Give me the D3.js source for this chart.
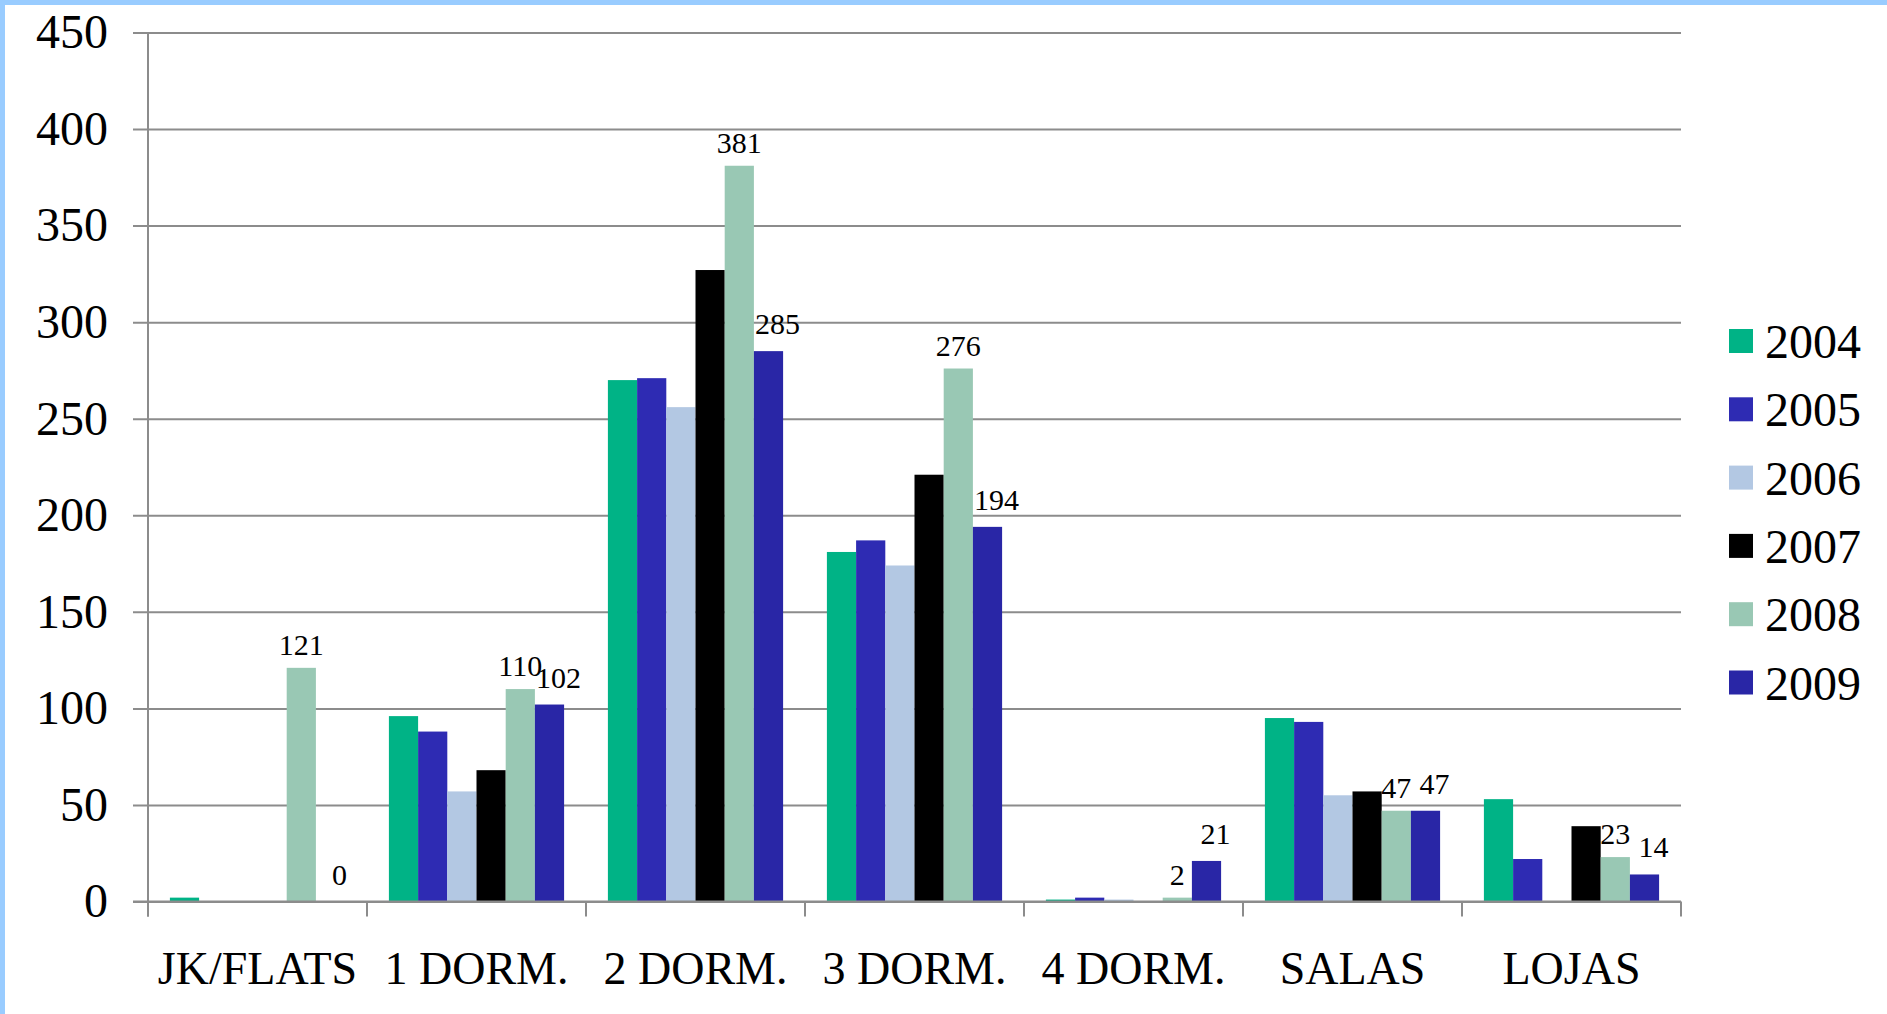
<!DOCTYPE html>
<html>
<head>
<meta charset="utf-8">
<script src="https://cdn.jsdelivr.net/npm/d3@7"></script>
<style>
  html, body { margin: 0; padding: 0; background: #fff; }
  svg { display: block; font-family: "Liberation Serif", "Times New Roman", serif; }
</style>
</head>
<body>
<div id="chart"></div>
<script>
const categories = ["JK/FLATS", "1 DORM.", "2 DORM.", "3 DORM.", "4 DORM.", "SALAS", "LOJAS"];
const years = ["2004", "2005", "2006", "2007", "2008", "2009"];
const values2004 = [2, 96, 270, 181, 1, 95, 53];
const values2005 = [0, 88, 271, 187, 2, 93, 22];
const values2006 = [0, 57, 256, 174, 1, 55, 0];
const values2007 = [0, 68, 327, 221, 0, 57, 39];
const values2008 = [121, 110, 381, 276, 2, 47, 23];
const values2009 = [0, 102, 285, 194, 21, 47, 14];
const yTicks = [0, 50, 100, 150, 200, 250, 300, 350, 400, 450];
const labelledYears = ["2008", "2009"];

const colors = ["#00b386", "#2e2bb3", "#b3c8e3", "#000000", "#99c8b4", "#2926a6"];
const seriesValues = [values2004, values2005, values2006, values2007, values2008, values2009];

const W = 1887, H = 1014;
const plotLeft = 148, plotRight = 1681, plotTop = 32.5, plotBottom = 901.5;

const svg = d3.select("#chart").append("svg")
    .attr("width", W)
    .attr("height", H);

// light blue frame on top and left
svg.append("rect").attr("x", 0).attr("y", 0).attr("width", W).attr("height", 5).attr("fill", "#99ccff");
svg.append("rect").attr("x", 0).attr("y", 0).attr("width", 5).attr("height", H).attr("fill", "#99ccff");

const x0 = d3.scaleBand().domain(categories).range([plotLeft, plotRight]).paddingInner(0).paddingOuter(0);
const x1 = d3.scaleBand().domain(years).range([0, x0.bandwidth()]).paddingInner(0).paddingOuter(0.75);
const y = d3.scaleLinear().domain([0, 450]).range([plotBottom, plotTop]);
const color = d3.scaleOrdinal().domain(years).range(colors);

// y axis with gridlines
const yAxis = svg.append("g")
    .attr("transform", `translate(${plotLeft},0)`)
    .call(d3.axisLeft(y).tickValues(yTicks).tickSize(0).tickPadding(40));
yAxis.select(".domain").remove();
yAxis.selectAll(".tick line")
    .attr("x1", -15)
    .attr("x2", plotRight - plotLeft)
    .attr("stroke", "#8c8c8c")
    .attr("stroke-width", 2);
yAxis.selectAll(".tick text")
    .attr("font-size", 48)
    .attr("font-family", "Liberation Serif")
    .attr("fill", "#000");

// vertical axis line
svg.append("line")
    .attr("x1", plotLeft).attr("x2", plotLeft)
    .attr("y1", plotTop).attr("y2", plotBottom + 15)
    .attr("stroke", "#8c8c8c").attr("stroke-width", 2);

// bars
const rows = categories.map((c, i) => ({ cat: c, vals: years.map((yr, j) => ({ year: yr, value: seriesValues[j][i] })) }));

const groups = svg.append("g").selectAll("g")
    .data(rows)
    .join("g")
    .attr("transform", d => `translate(${x0(d.cat)},0)`);

groups.selectAll("rect")
    .data(d => d.vals)
    .join("rect")
    .attr("x", d => x1(d.year))
    .attr("y", d => y(d.value))
    .attr("width", x1.bandwidth())
    .attr("height", d => plotBottom - y(d.value))
    .attr("fill", d => color(d.year));

// data labels for 2008 and 2009
groups.selectAll("text.lbl")
    .data(d => d.vals.filter(v => labelledYears.includes(v.year)))
    .join("text")
    .attr("class", "lbl")
    .attr("x", d => x1(d.year) + x1.bandwidth() / 2 + (d.year === "2009" ? 9 : 0))
    .attr("y", d => y(d.value) - (d.year === "2009" ? 17 : 13))
    .attr("text-anchor", "middle")
    .attr("font-size", 30)
    .text(d => d.value);

// x axis baseline and boundary ticks
svg.append("line")
    .attr("x1", plotLeft - 15).attr("x2", plotRight)
    .attr("y1", plotBottom).attr("y2", plotBottom)
    .attr("stroke", "#8c8c8c").attr("stroke-width", 2);

const bounds = categories.map(c => x0(c)).concat([plotRight]);
svg.append("g").selectAll("line")
    .data(bounds)
    .join("line")
    .attr("x1", d => d).attr("x2", d => d)
    .attr("y1", plotBottom).attr("y2", plotBottom + 15)
    .attr("stroke", "#8c8c8c").attr("stroke-width", 2);

const xAxis = svg.append("g")
    .attr("transform", `translate(0,${plotBottom})`)
    .call(d3.axisBottom(x0).tickSize(0).tickPadding(50));
xAxis.select(".domain").remove();
xAxis.selectAll(".tick text")
    .attr("font-size", 46)
    .attr("font-family", "Liberation Serif")
    .attr("fill", "#000");

// legend
const legend = svg.append("g").selectAll("g")
    .data(years)
    .join("g")
    .attr("transform", (d, i) => `translate(1729,${341 + i * 68.3})`);
legend.append("rect")
    .attr("x", 0).attr("y", -12)
    .attr("width", 24).attr("height", 24)
    .attr("fill", d => color(d));
legend.append("text")
    .attr("x", 36).attr("y", 17)
    .attr("font-size", 48)
    .text(d => d);
</script>
</body>
</html>
